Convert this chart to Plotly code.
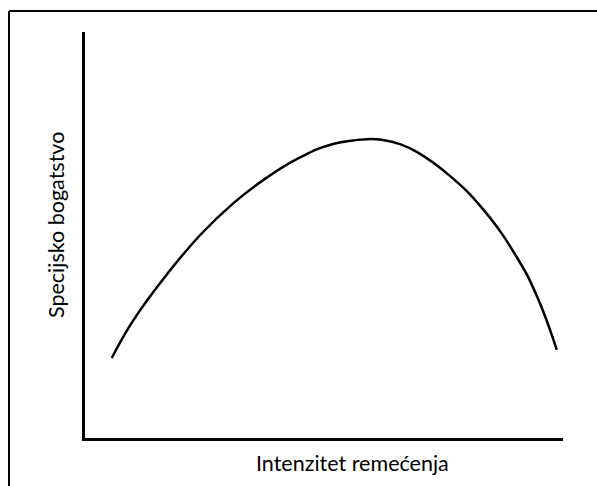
import plotly.graph_objects as go

# disturbance intensity vs species richness (0-100 scale)
intensity = [5.6, 10.0, 17.2, 24.1, 31.0, 38.1, 45.0, 51.9, 59.0, 62.3,
             65.9, 69.5, 76.4, 83.3, 90.4, 94.6, 98.7]
richness = [19.7, 28.8, 40.4, 50.0, 57.8, 64.2, 69.1, 72.4, 73.6, 73.4,
            72.4, 70.4, 64.5, 56.3, 44.4, 34.8, 21.7]

x_title = "Intenzitet remećenja"
y_title = "Specijsko bogatstvo"

W, H = 597, 486
L, R, T, B = 85, 34, 32, 48
pw, ph = W - L - R, H - T - B


def px_x(p):
    return (p - L) / pw


def px_y(p):
    return (H - B - p) / ph


fig = go.Figure()
fig.add_trace(
    go.Scatter(
        x=intensity,
        y=richness,
        mode="lines",
        line=dict(color="black", width=2.5, shape="spline", smoothing=1.3),
        hoverinfo="skip",
        showlegend=False,
    )
)

font = dict(family="Lato, Open Sans, sans-serif", size=21.5, color="black")

fig.update_layout(
    width=W,
    height=H,
    margin=dict(l=L, r=R, t=T, b=B),
    paper_bgcolor="white",
    plot_bgcolor="white",
    xaxis=dict(range=[0, 100], showline=True, linecolor="black", linewidth=3,
               showgrid=False, zeroline=False, showticklabels=False, ticks=""),
    yaxis=dict(range=[0, 100], showline=True, linecolor="black", linewidth=3,
               showgrid=False, zeroline=False, showticklabels=False, ticks=""),
    annotations=[
        dict(text=x_title, x=px_x(352), y=px_y(463), xref="paper", yref="paper",
             showarrow=False, font=font, xanchor="center", yanchor="middle"),
        dict(text=y_title, x=px_x(56), y=px_y(225), xref="paper", yref="paper",
             showarrow=False, font=font, textangle=-90,
             xanchor="center", yanchor="middle"),
    ],
    shapes=[
        # frame of the original figure (only top and left edges are visible)
        dict(type="line", xref="paper", yref="paper",
             x0=px_x(9), x1=px_x(W + 5), y0=px_y(11), y1=px_y(11),
             line=dict(color="black", width=2)),
        dict(type="line", xref="paper", yref="paper",
             x0=px_x(9), x1=px_x(9), y0=px_y(11), y1=px_y(H + 5),
             line=dict(color="black", width=2)),
    ],
)

# page body has a default margin; drop it so the figure sits at the window origin
fig.write_html(
    "out.html",
    config={"displayModeBar": False},
    post_script="document.body.style.margin='0';document.body.style.overflow='hidden';",
)
